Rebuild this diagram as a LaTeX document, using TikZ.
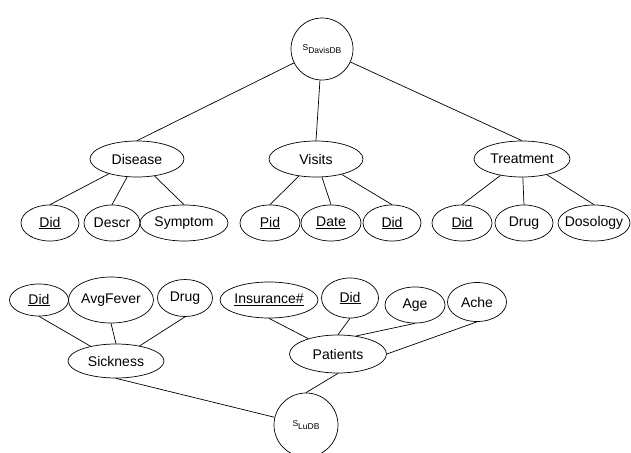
\documentclass[tikz,border=0pt]{standalone}
\usepackage{fontspec}
\setmainfont{Liberation Sans}
\usepackage{tikz}
\usetikzlibrary{shapes.geometric}
\newcommand{\dbname}[1]{{\fontsize{8.5pt}{10pt}\selectfont S\raisebox{-3pt}{#1}}}

\begin{document}
\begin{tikzpicture}[x=1pt, y=-1pt, line width=0.7pt,
    attr/.style={draw, ellipse, inner xsep=-10pt, inner ysep=0pt, font=\fontsize{14pt}{16pt}\selectfont},
    sz/.style 2 args={minimum width=#1pt, minimum height=#2pt},
    db/.style={draw, circle, inner sep=0pt, minimum size=62pt}]
      \useasboundingbox (0,0) rectangle (631,452);

      % DavisDB tree
      \node[db] (davis) at (322,49) {\dbname{DavisDB}};
      \node[attr, sz={94}{36}] (disease) at (137,159) {Disease};
      \node[attr, sz={94}{36}] (visits) at (316,159) {Visits};
      \node[attr, sz={96}{36}] (treatment) at (522,159) {Treatment};

      \node[attr, sz={58}{36}] (disDid) at (50,223) {\underline{Did}};
      \node[attr, sz={56}{36}] (disDescr) at (112,223) {Descr};
      \node[attr, sz={88}{36}] (disSymptom) at (184,223) {Symptom};
      \node[attr, sz={60}{36}] (visPid) at (270,223) {\underline{Pid}};
      \node[attr, sz={60}{36}] (visDate) at (331,223) {\underline{Date}};
      \node[attr, sz={58}{36}] (visDid) at (392,223) {\underline{Did}};
      \node[attr, sz={60}{36}] (treDid) at (462,223) {\underline{Did}};
      \node[attr, sz={58}{36}] (treDrug) at (524,223) {Drug};
      \node[attr, sz={72}{36}] (treDosology) at (594,223) {Dosology};

      \draw (davis) -- (disease.north);
      \draw (davis) -- (visits.north);
      \draw (davis) -- (treatment.north);
      \draw (disDid.north) -- (disease);
      \draw (disDescr.north) -- (disease);
      \draw (disSymptom.north) -- (disease);
      \draw (visPid.north) -- (visits);
      \draw (visDate.north) -- (visits);
      \draw (visDid.north) -- (visits);
      \draw (treDid.north) -- (treatment);
      \draw (treDrug.north) -- (treatment);
      \draw (treDosology.north) -- (treatment);

      % LuDB tree
      \node[attr, sz={59}{32}] (sicDid) at (39,300) {\underline{Did}};
      \node[attr, sz={85}{46}] (sicFever) at (111,300) {AvgFever};
      \node[attr, sz={55}{37}] (sicDrug) at (185,298) {Drug};
      \node[attr, sz={96}{34}] (sickness) at (116,361) {Sickness};
      \node[attr, sz={98}{36}] (patIns) at (269,300) {\underline{Insurance\#}};
      \node[attr, sz={57}{40}] (patDid) at (350,298) {\underline{Did}};
      \node[attr, sz={60}{36}] (patAge) at (415,305) {Age};
      \node[attr, sz={59}{39}] (patAche) at (477,302) {Ache};
      \node[attr, sz={97}{38}] (patients) at (338,354) {Patients};
      \node[db, minimum size=64pt] (lu) at (306,425) {\dbname{LuDB}};

      \draw (sicDid.south) -- (sickness);
      \draw (sicFever.south) -- (sickness.north);
      \draw (sicDrug.south) -- (sickness);
      \draw (patIns.south) -- (patients);
      \draw (patDid.south) -- (patients.north);
      \draw (patAge.south) -- (patients.45);
      \draw (patAche.south) -- (patients.east);
      \draw (sickness.south) -- (lu);
      \draw (patients.south) -- (lu.north);
\end{tikzpicture}
\end{document}
